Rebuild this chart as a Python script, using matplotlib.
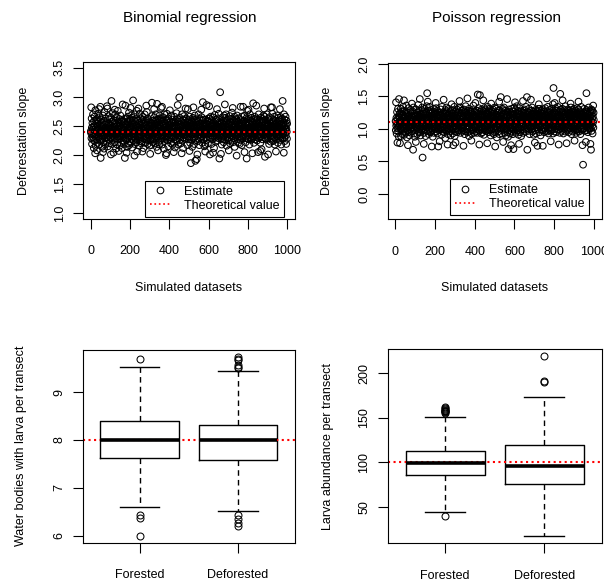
import numpy as np
import matplotlib
matplotlib.use("Agg")
import matplotlib.pyplot as plt
from matplotlib.lines import Line2D
from matplotlib.ticker import FormatStrFormatter

plt.rcParams['font.family'] = ['Liberation Sans', 'DejaVu Sans']

# slope estimates (x100) for the 1000 simulated datasets
binom_est = np.array("""
241 238 282 229 263 247 219 236 255 244 231 270 226 249 237 212 258 243 233 266
224 251 203 277 235 216 246 259 228 242 262 208 239 254 221 248 236 271 245 230
257 233 279 218 265 240 227 252 283 237 195 249 261 225 243 234 256 214 246 239
232 268 205 222 250 238 259 211 244 274 229 241 253 236 218 263 247 230 255 242
237 223 284 246 280 231 242 215 254 239 267 226 248 235 261 244 220 252 238 229
251 240 201 264 236 293 245 219 257 233 248 272 226 241 255 204 238 260 243 231
246 222 278 237 270 229 244 253 211 242 236 265 249 218 256 240 232 276 227 245
239 257 207 248 233 262 216 251 243 229 268 237 254 221 245 260 234 247 212 258
230 243 287 236 250 225 258 241 219 247 262 233 255 195 244 239 285 228 252 237
248 226 204 263 214 253 237 229 266 245 220 257 242 234 273 217 250 238 261 231
243 259 281 247 221 268 239 252 227 244 264 213 256 241 235 294 248 225 260 237
253 232 199 219 270 241 228 257 245 234 262 222 250 238 276 206 243 259 231 247
226 260 280 248 233 255 216 244 271 230 251 240 224 263 236 247 258 220 242 254
245 223 206 238 266 229 249 242 212 261 235 253 243 227 270 239 246 221 256 233
259 236 285 228 252 274 231 247 240 219 263 234 255 245 225 260 238 251 216 242
234 249 202 225 243 256 238 217 251 230 267 290 241 228 254 246 222 259 237 248
250 227 279 265 236 253 220 246 258 233 243 270 229 255 239 214 248 288 232 261
240 256 208 247 222 262 244 235 253 218 268 238 250 226 245 259 234 281 241 229
262 233 283 218 257 240 228 265 243 236 252 211 247 239 270 224 256 241 233 250
228 254 200 260 242 203 249 271 232 245 258 226 240 263 215 251 236 247 230 256
244 239 277 226 252 234 247 258 220 241 268 233 255 229 246 261 218 250 238 243
257 221 205 250 231 266 239 246 213 256 237 248 227 260 242 235 272 224 251 238
236 262 286 245 253 240 218 257 234 249 299 231 264 243 226 252 239 247 220 258
249 233 203 239 270 225 244 251 237 212 261 246 230 255 241 267 228 243 253 235
241 259 280 247 235 263 250 229 245 238 256 217 252 240 279 232 246 260 227 243
230 251 207 266 238 221 255 242 248 186 260 235 249 227 257 243 214 252 239 264
255 236 282 229 261 247 219 250 238 268 232 245 190 256 241 226 259 237 247 193
242 263 201 250 224 257 244 236 270 228 253 240 217 249 235 262 246 230 255 239
247 229 278 240 265 233 248 221 259 243 291 236 252 227 244 261 238 250 215 245
236 254 206 218 261 239 250 231 246 286 226 253 241 235 258 244 220 249 237 263
258 231 284 263 237 244 201 255 240 229 266 248 234 251 219 260 242 238 254 227
243 265 204 249 238 256 233 212 252 245 240 269 230 247 257 223 244 261 236 250
232 250 279 258 225 246 263 237 253 229 244 271 239 248 194 256 234 245 308 240
254 238 202 229 247 241 218 256 236 250 265 227 243 259 233 248 222 252 240 268
240 257 287 251 226 264 245 238 270 231 249 216 255 242 236 261 228 246 253 235
249 225 208 243 237 253 230 267 241 220 256 246 234 262 239 251 226 244 273 232
237 261 281 222 255 240 248 229 259 236 243 266 214 252 238 247 257 231 245 260
262 234 199 239 268 227 246 253 235 258 221 244 263 240 249 230 255 219 251 242
226 248 283 232 245 260 238 251 217 266 242 229 254 247 236 283 233 258 240 245
245 259 205 268 241 229 253 246 222 257 240 263 232 194 251 237 276 243 228 255
234 250 278 227 262 239 255 218 248 236 270 245 231 259 242 226 264 238 252 247
258 228 203 256 233 245 289 230 252 240 221 260 243 236 266 249 227 254 239 244
241 263 285 250 238 257 225 246 261 234 249 205 253 243 270 229 245 237 256 231
250 236 207 221 264 242 248 233 257 210 245 262 238 251 227 259 244 235 268 240
239 258 280 230 266 247 197 252 235 261 243 228 256 240 249 233 270 245 226 254
253 229 201 262 237 251 243 219 258 236 265 241 232 255 248 223 282 238 250 244
228 255 282 249 271 233 257 245 224 260 238 252 242 230 266 246 218 253 237 259
247 238 206 227 253 242 235 268 250 231 256 244 221 259 240 264 234 248 243 236
260 232 279 244 226 257 239 265 246 218 253 241 236 262 229 249 293 237 255 243
235 256 204 270 230 248 261 224 250 238 244 266 233 252 219 245 259 240 228 254
""".split(), dtype=float) / 100

pois_est = np.array("""
112 98 141 105 117 93 108 126 101 79 115 109 131 96 119 104 88 146 111 123
107 118 78 124 102 113 131 89 110 120 99 127 106 116 92 122 103 134 111 97
121 104 144 91 128 108 117 100 125 113 94 119 106 136 102 111 123 87 116 109
98 125 75 119 103 132 95 114 107 121 90 117 104 129 112 99 126 108 115 101
116 102 139 96 111 127 105 118 68 109 133 100 120 93 114 124 107 88 119 112
105 121 80 113 130 101 117 108 125 92 115 103 122 110 137 96 118 106 128 99
119 95 146 108 116 90 122 111 103 129 98 114 121 105 133 100 56 117 109 124
101 127 77 94 120 107 131 99 116 104 123 89 118 110 126 97 113 135 106 155
114 103 142 97 118 109 128 92 115 121 100 134 107 119 95 124 111 102 129 108
96 117 73 125 99 113 120 88 127 110 103 118 131 94 116 107 122 100 114 126
123 108 140 100 132 96 119 111 104 128 93 117 109 125 101 73 121 106 113 98
110 126 81 118 105 122 99 130 112 103 120 91 116 108 134 97 124 114 102 119
104 113 145 95 121 107 117 100 125 111 86 129 106 118 98 123 110 133 103 115
127 99 76 120 92 116 105 131 108 122 101 114 96 126 111 104 119 90 128 107
97 118 138 124 110 101 129 115 93 120 108 75 123 99 116 105 134 112 89 121
115 104 79 96 127 109 118 102 113 130 95 121 107 117 100 125 111 98 132 106
108 125 143 116 105 133 111 94 119 103 124 110 128 97 114 121 101 118 106 129
120 101 74 130 98 117 107 123 92 126 112 104 119 135 96 113 125 100 116 109
99 122 147 118 111 95 128 103 121 114 89 131 108 117 102 124 110 97 127 113
126 110 82 93 124 107 115 100 129 111 120 98 136 105 122 94 118 112 103 127
106 117 140 101 120 96 113 125 108 119 94 128 104 116 153 110 123 99 114 132
118 103 76 110 97 152 107 121 114 100 127 93 117 109 130 102 122 113 95 119
101 128 144 105 123 91 116 132 99 120 108 126 103 114 97 129 111 118 106 124
124 97 78 109 134 102 121 113 95 127 105 117 100 131 112 98 125 107 119 90
111 120 139 128 99 116 108 123 117 94 130 106 121 101 115 126 92 118 110 133
95 114 73 100 119 111 98 131 104 122 87 117 109 125 102 120 113 96 128 107
117 106 142 92 129 103 115 120 108 99 149 112 124 101 118 93 126 110 105 131
108 129 80 114 121 105 133 100 117 111 94 123 107 128 102 115 90 120 113 99
122 101 146 127 95 110 119 88 125 69 113 104 130 98 121 107 117 93 126 111
103 118 75 96 124 114 131 100 120 106 127 92 115 108 69 122 99 117 133 105
116 97 141 111 103 129 94 119 107 121 100 135 112 98 123 109 117 102 128 91
98 123 77 119 132 101 114 126 95 110 118 104 122 89 116 127 103 113 108 120
125 109 143 94 121 107 128 99 115 130 102 118 111 124 96 113 106 134 100 119
110 121 149 105 68 118 101 126 113 97 122 108 131 100 116 92 124 107 119 115
102 117 145 128 111 104 120 99 133 109 123 96 114 127 105 118 91 122 110 126
120 105 79 112 98 129 107 117 93 121 115 102 127 110 100 74 118 106 123 131
107 126 138 116 122 95 131 109 118 103 125 90 113 120 106 128 99 115 111 124
124 98 74 106 130 111 102 123 95 117 108 127 101 114 132 97 121 105 116 110
113 120 147 127 96 118 109 134 100 115 122 93 126 107 119 103 129 112 98 121
118 101 81 110 122 97 115 106 131 99 124 112 105 138 93 120 163 108 126 114
96 125 140 119 104 132 100 116 123 108 95 128 113 102 121 117 106 134 99 120
122 109 76 99 127 112 103 120 94 118 154 105 130 111 97 124 108 119 101 126
105 131 144 121 110 118 93 125 107 115 129 100 117 123 96 112 135 104 120 109
119 102 78 108 114 97 123 111 130 100 116 121 95 128 106 113 101 125 110 118
111 124 139 117 133 105 120 92 127 109 114 103 121 96 129 115 107 122 100 131
126 104 82 122 98 128 110 101 119 113 94 125 106 118 132 99 123 108 116 97
100 121 142 130 113 96 124 117 103 127 111 120 92 115 105 134 101 122 109 118
117 106 75 99 122 45 113 125 101 119 108 131 97 116 124 104 120 110 127 80
123 112 155 104 129 98 118 107 126 95 121 114 102 133 109 117 100 124 113 106
108 127 77 101 120 68 112 130 97 123 116 105 128 93 119 110 136 102 125 114
""".split(), dtype=float) / 100

binom_true = 2.4
pois_true = 1.1

# boxplot summaries
groups = ['Forested', 'Deforested']
wb_q1 = [7.63, 7.59]
wb_med = [8.0, 8.0]
wb_q3 = [8.39, 8.32]
wb_lo = [6.59, 6.51]
wb_hi = [9.53, 9.44]
wb_out = [[9.69, 6.43, 6.37, 6.0],
          [9.73, 9.70, 9.66, 9.57, 9.53, 9.50, 6.44, 6.34, 6.27, 6.20]]
wb_true = 8

la_q1 = [85.4, 76.0]
la_med = [99.0, 95.5]
la_q3 = [113.0, 119.8]
la_lo = [44.8, 17.4]
la_hi = [150.7, 173.7]
la_out = [[155, 156, 157, 157, 158, 159, 160, 161, 162, 40.3],
          [190, 191, 218.6]]
la_true = 100

W, H = 604, 584
fig = plt.figure(figsize=(W / 100, H / 100), dpi=100)


def box(l, t, r, b):
    return [l / W, 1 - b / H, (r - l) / W, (b - t) / H]


def r_axes(ax):
    for s in ax.spines.values():
        s.set_linewidth(0.8)
    ax.tick_params(direction='out', length=7, width=0.8, labelsize=9)
    ax.tick_params(axis='x', pad=12)
    ax.tick_params(axis='y', pad=5.5, labelrotation=90)
    for lab in ax.get_yticklabels():
        lab.set_va('center')


def scatter_panel(ax, est, true, yticks, ylim):
    idx = np.arange(1, len(est) + 1)
    ax.scatter(idx, est, s=23, facecolors='none', edgecolors='black', linewidths=0.75)
    ax.axhline(true, color='red', ls=':', lw=1.5)
    ax.set_xlim(1 - 0.04 * 999, 1000 + 0.04 * 999)
    ax.set_xticks([0, 200, 400, 600, 800, 1000])
    ax.set_yticks(yticks)
    ax.yaxis.set_major_formatter(FormatStrFormatter('%.1f'))
    ax.set_ylim(*ylim)
    r_axes(ax)
    h = [Line2D([], [], marker='o', ls='none', mfc='none', mec='black', ms=4.8, mew=0.75),
         Line2D([], [], color='red', ls=':', lw=1.2)]
    return h


def box_panel(ax, q1, med, q3, lo, hi, out, true):
    stats = [dict(label=g, q1=a, med=m, q3=b, whislo=w0, whishi=w1, fliers=f)
             for g, a, m, b, w0, w1, f in zip(groups, q1, med, q3, lo, hi, out)]
    ax.bxp(stats, positions=[1, 2], widths=0.8, capwidths=0.4,
           boxprops=dict(lw=1, color='black'),
           medianprops=dict(lw=2.6, color='black', solid_capstyle='butt'),
           whiskerprops=dict(lw=1, color='black', ls=(0, (4, 3))),
           capprops=dict(lw=1, color='black'),
           flierprops=dict(marker='o', mfc='none', mec='black', ms=5, mew=0.75))
    ax.axhline(true, color='red', ls=':', lw=1.5)
    allv = lo + hi + sum(out, [])
    rng = max(allv) - min(allv)
    ax.set_ylim(min(allv) - 0.04 * rng, max(allv) + 0.04 * rng)
    ax.set_xlim(0.42, 2.58)
    r_axes(ax)


ax1 = fig.add_axes(box(83, 62, 295, 219))
h = scatter_panel(ax1, binom_est, binom_true, [1.0, 1.5, 2.0, 2.5, 3.0, 3.5], (0.9, 3.6))
leg = ax1.legend(h, ['Estimate', 'Theoretical value'], loc='lower right',
                 bbox_to_anchor=(0.9495, 0.0146), borderaxespad=0, fancybox=False,
                 edgecolor='black', framealpha=1, fontsize=9, handlelength=1.73,
                 handletextpad=1.0, borderpad=0.4, labelspacing=0.15)
leg.get_frame().set_linewidth(0.8)

ax2 = fig.add_axes(box(387.7, 63.3, 601.7, 219.3))
h = scatter_panel(ax2, pois_est, pois_true, [0.0, 0.5, 1.0, 1.5, 2.0], (-0.39, 2.01))
leg = ax2.legend(h, ['Estimate', 'Theoretical value'], loc='lower right',
                 bbox_to_anchor=(0.942, 0.0276), borderaxespad=0, fancybox=False,
                 edgecolor='black', framealpha=1, fontsize=9, handlelength=1.73,
                 handletextpad=1.0, borderpad=0.4, labelspacing=0.15)
leg.get_frame().set_linewidth(0.8)

ax3 = fig.add_axes(box(82.7, 350, 295, 542.7))
box_panel(ax3, wb_q1, wb_med, wb_q3, wb_lo, wb_hi, wb_out, wb_true)
ax3.set_yticks([6, 7, 8, 9])

ax4 = fig.add_axes(box(387.7, 349.3, 601.7, 543.3))
box_panel(ax4, la_q1, la_med, la_q3, la_lo, la_hi, la_out, la_true)
ax4.set_yticks([50, 100, 150, 200])
for ax in (ax3, ax4):
    for lab in ax.get_yticklabels():
        lab.set_rotation(90)
        lab.set_va('center')

# titles and axis labels
def ftxt(x, y, s, **kw):
    fig.text(x / W, 1 - y / H, s, ha='center', va='center', **kw)

ftxt(190, 18, 'Binomial regression', fontsize=11)
ftxt(497, 18, 'Poisson regression', fontsize=11)
ftxt(189, 288, 'Simulated datasets', fontsize=9)
ftxt(495, 288, 'Simulated datasets', fontsize=9)
ftxt(24, 141, 'Deforestation slope', fontsize=9, rotation=90)
ftxt(327, 141, 'Deforestation slope', fontsize=9, rotation=90)
ftxt(21.5, 446, 'Water bodies with larva per transect', fontsize=9, rotation=90)
ftxt(327.5, 446, 'Larva abundance per transect', fontsize=9, rotation=90)

fig.savefig('out.png', dpi=100)
